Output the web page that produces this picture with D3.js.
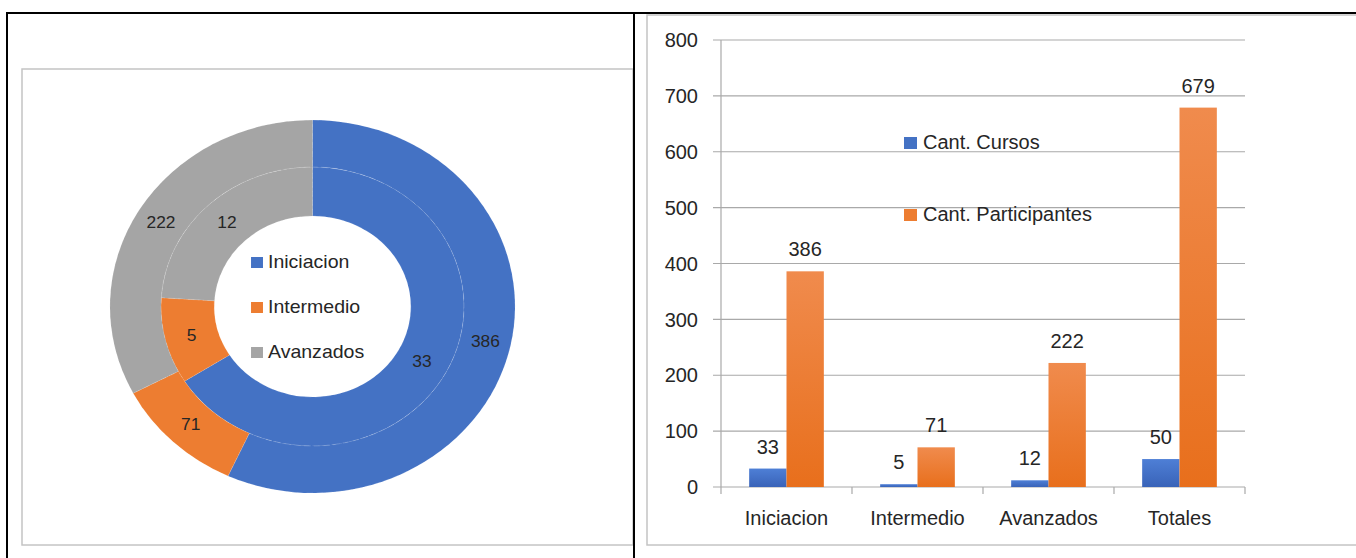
<!DOCTYPE html>
<html lang="es">
<head>
  <meta charset="UTF-8">
  <title>Cursos y participantes</title>
  <script src="https://d3js.org/d3.v7.min.js"></script>
  <style>
    body { margin: 0; background: #fff; }
    svg { display: block; font-family: "Liberation Sans", Arial, sans-serif; }
    .frame { stroke: #000; stroke-width: 2; fill: none; }
    .box { stroke: #c4c4c4; stroke-width: 1.5; fill: none; }
    .grid line { stroke: #a9a9a9; stroke-width: 1.2; }
    .lbl { fill: #262626; }
  </style>
</head>
<body>
  <svg width="1356" height="558"></svg>
  <script>
    // datos
    const niveles = ["Iniciacion", "Intermedio", "Avanzados"];
    const cursos = [33, 5, 12];
    const participantes = [386, 71, 222];
    const colores = ["#4472C4", "#ED7D31", "#A5A5A5"];

    const categorias = ["Iniciacion", "Intermedio", "Avanzados", "Totales"];
    const cantCursos = [33, 5, 12, 50];
    const cantParticipantes = [386, 71, 222, 679];
    const series = ["Cant. Cursos", "Cant. Participantes"];
    const yTicks = [0, 100, 200, 300, 400, 500, 600, 700, 800];

    const svg = d3.select("svg");

    // marcos
    svg.append("rect").attr("class", "box").attr("x", 22).attr("y", 69).attr("width", 611).attr("height", 476);
    svg.append("rect").attr("class", "box").attr("x", 647).attr("y", 15).attr("width", 720).attr("height", 530);
    svg.append("line").attr("class", "frame").attr("x1", 6).attr("x2", 1356).attr("y1", 13).attr("y2", 13);
    svg.append("line").attr("class", "frame").attr("x1", 7).attr("x2", 7).attr("y1", 12).attr("y2", 558);
    svg.append("line").attr("class", "frame").attr("x1", 634).attr("x2", 634).attr("y1", 12).attr("y2", 558);

    // ---- anillo ----
    const sx = 1.086;
    const dg = svg.append("g").attr("transform", `translate(312.5,306.5) scale(${sx},1)`);
    const pie = d3.pie().sort(null).value(d => d.v);

    const rings = [
      { vals: cursos, inner: 90.5, outer: 139.5 },
      { vals: participantes, inner: 139.5, outer: 186.5 }
    ];

    rings.forEach(r => {
      const arcs = pie(r.vals.map((v, i) => ({ v, i })));
      const arc = d3.arc().innerRadius(r.inner).outerRadius(r.outer);
      dg.selectAll(null).data(arcs).enter().append("path")
        .attr("d", arc)
        .attr("fill", d => colores[d.data.i])
        .attr("stroke", "#fff").attr("stroke-width", 0.6).attr("stroke-opacity", 0.25)
        .attr("stroke-dasharray", "6 3");
      dg.selectAll(null).data(arcs).enter().append("text")
        .attr("class", "lbl")
        .attr("x", d => arc.centroid(d)[0])
        .attr("y", d => arc.centroid(d)[1])
        .attr("dy", "0.35em")
        .attr("text-anchor", "middle")
        .attr("font-size", 16)
        .text(d => d.data.v);
    });

    const leg = dg.append("g");
    niveles.forEach((n, i) => {
      const y = -38.5 + i * 45;
      leg.append("rect").attr("x", -56.6).attr("y", y - 11).attr("width", 11).attr("height", 11).attr("fill", colores[i]);
      leg.append("text").attr("class", "lbl").attr("x", -41).attr("y", y).attr("font-size", 18).text(n);
    });

    // ---- barras ----
    const y = d3.scaleLinear().domain([0, 800]).range([487, 40]);
    const x0 = d3.scaleBand().domain(categorias).range([721, 1245]).paddingInner(0.43).paddingOuter(0.215);
    const x1 = d3.scaleBand().domain(series).range([0, x0.bandwidth()]);

    const defs = svg.append("defs");
    const grad = (id, top, bot) => {
      const lg = defs.append("linearGradient").attr("id", id).attr("x1", 0).attr("x2", 0).attr("y1", 0).attr("y2", 1);
      lg.append("stop").attr("offset", "0%").attr("stop-color", top);
      lg.append("stop").attr("offset", "100%").attr("stop-color", bot);
    };
    grad("gBlue", "#4e7fd6", "#3963b8");
    grad("gOrange", "#f08b4d", "#e86f1c");
    const fills = ["url(#gBlue)", "url(#gOrange)"];
    const legFills = ["#4472C4", "#ED7D31"];

    const grid = svg.append("g").attr("class", "grid");
    grid.selectAll("line").data(yTicks).enter().append("line")
      .attr("x1", 713).attr("x2", 1245)
      .attr("y1", d => y(d)).attr("y2", d => y(d));

    svg.append("g").attr("class", "lbl").selectAll("text").data(yTicks).enter().append("text")
      .attr("x", 698).attr("y", d => y(d)).attr("dy", "0.36em")
      .attr("text-anchor", "end").attr("font-size", 20).text(d => d);

    // ejes
    svg.append("line").attr("x1", 721).attr("x2", 721).attr("y1", y(800)).attr("y2", y(0))
      .attr("stroke", "#a9a9a9").attr("stroke-width", 1.2);
    const edges = categorias.map(c => x0(c) - x0.step() * x0.paddingInner() / 2).concat([1245]);
    svg.append("g").selectAll("line").data(edges).enter().append("line")
      .attr("x1", d => d).attr("x2", d => d).attr("y1", y(0)).attr("y2", y(0) + 7)
      .attr("stroke", "#a9a9a9").attr("stroke-width", 1.2);

    const data = categorias.map((c, i) => ({ c, vals: [cantCursos[i], cantParticipantes[i]] }));
    const groups = svg.append("g").selectAll("g").data(data).enter().append("g")
      .attr("transform", d => `translate(${x0(d.c)},0)`);

    groups.selectAll("rect").data(d => d.vals.map((v, j) => ({ v, j }))).enter().append("rect")
      .attr("x", d => x1(series[d.j]))
      .attr("y", d => y(d.v))
      .attr("width", x1.bandwidth())
      .attr("height", d => y(0) - y(d.v))
      .attr("fill", d => fills[d.j]);

    groups.selectAll("text").data(d => d.vals.map((v, j) => ({ v, j }))).enter().append("text")
      .attr("class", "lbl")
      .attr("x", d => x1(series[d.j]) + x1.bandwidth() / 2)
      .attr("y", d => y(d.v) - 15)
      .attr("text-anchor", "middle").attr("font-size", 20)
      .text(d => d.v);

    svg.append("g").selectAll("text").data(categorias).enter().append("text")
      .attr("class", "lbl")
      .attr("x", d => x0(d) + x0.bandwidth() / 2).attr("y", 525)
      .attr("text-anchor", "middle").attr("font-size", 20).text(d => d);

    series.forEach((s, i) => {
      const ly = 149 + i * 72;
      svg.append("rect").attr("x", 904).attr("y", ly - 12).attr("width", 13).attr("height", 12).attr("fill", legFills[i]);
      svg.append("text").attr("class", "lbl").attr("x", 923).attr("y", ly).attr("font-size", 20).text(s);
    });
  </script>
</body>
</html>
